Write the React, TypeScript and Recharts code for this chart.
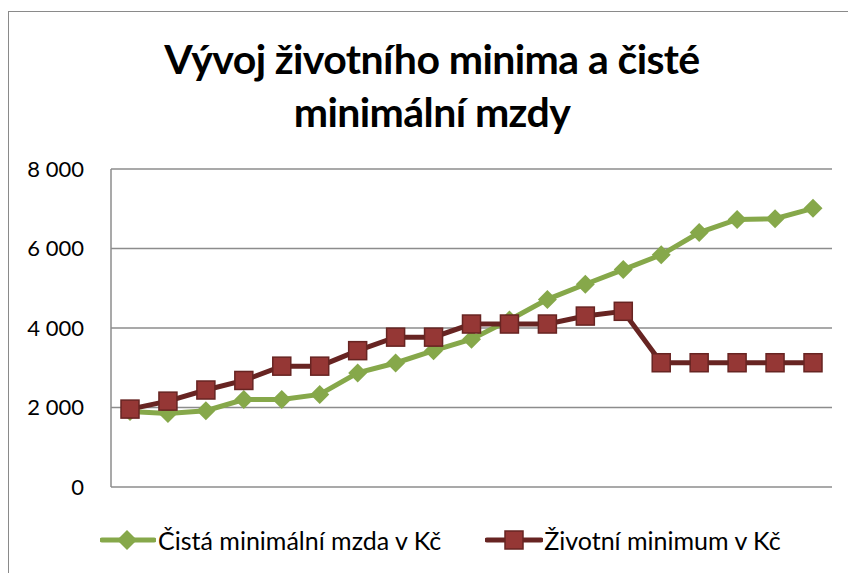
import { LineChart, Line, XAxis, YAxis, CartesianGrid } from "recharts"

const years = [
  "1991", "1992", "1993", "1994", "1995", "1996", "1997", "1998", "1999", "2000",
  "2001", "2002", "2003", "2004", "2005", "2006", "2007", "2008", "2009",
]
const cistaMzda = [
  1900, 1850, 1920, 2200, 2200, 2330, 2870, 3120, 3430, 3720,
  4200, 4720, 5100, 5470, 5840, 6400, 6730, 6750, 7010,
]
const zivotniMinimum = [
  1960, 2160, 2440, 2680, 3040, 3040, 3430, 3770, 3770, 4100,
  4100, 4100, 4300, 4420, 3126, 3126, 3126, 3126, 3126,
]
const yTicks = [0, 2000, 4000, 6000, 8000]

const data = years.map((year, i) => ({
  year,
  mzda: cistaMzda[i],
  minimum: zivotniMinimum[i],
}))

const GREEN = "#86a84a"
const RED_LINE = "#672422"
const RED_FILL = "#953735"
const FONT = "Lato, 'Noto Sans', sans-serif"

const fmt = (v: number) => (v === 0 ? "0" : `${Math.floor(v / 1000)} ${String(v % 1000).padStart(3, "0")}`)

function Diamond({ cx, cy }: any) {
  if (cx == null || cy == null) return null
  const r = 9.5
  return <polygon points={`${cx},${cy - r} ${cx + r},${cy} ${cx},${cy + r} ${cx - r},${cy}`} fill={GREEN} />
}

function Square({ cx, cy }: any) {
  if (cx == null || cy == null) return null
  const s = 9
  return <rect x={cx - s} y={cy - s} width={s * 2} height={s * 2} fill={RED_FILL} stroke={RED_LINE} strokeWidth={1.5} />
}

export default function App() {
  return (
    <div style={{ position: "relative", width: 848, height: 573, overflow: "hidden", background: "#fff", fontFamily: FONT }}>
      <style>{"body{margin:0}"}</style>
      <div
        style={{
          position: "absolute",
          left: 8,
          top: 11,
          width: 900,
          height: 620,
          border: "1.5px solid #8a8a8a",
        }}
      />
      <div
        style={{
          position: "absolute",
          left: 82,
          width: 700,
          top: 32,
          textAlign: "center",
          fontWeight: 700,
          fontSize: 41,
          lineHeight: "53px",
          color: "#000",
          letterSpacing: -0.6,
        }}
      >
        Vývoj životního minima a čisté
        <br />
        minimální mzdy
      </div>
      <div style={{ position: "absolute", left: 0, top: 0 }}>
        <LineChart width={848} height={573} data={data} margin={{ top: 169, right: 16, bottom: 86, left: 0 }}>
          <CartesianGrid vertical={false} stroke="#8c8c8c" strokeWidth={1.5} />
          <XAxis
            dataKey="year"
            tick={false}
            height={0}
            padding={{ left: 19, right: 19 }}
            axisLine={{ stroke: "#8c8c8c", strokeWidth: 1.5 }}
            tickLine={false}
          />
          <YAxis
            width={111}
            domain={[0, 8000]}
            ticks={yTicks}
            interval={0}
            tickFormatter={fmt}
            tickLine={false}
            tickSize={0}
            tickMargin={27}
            axisLine={{ stroke: "#8c8c8c", strokeWidth: 1.5 }}
            tick={{ fill: "#000", fontSize: 22, fontFamily: FONT }}
          />
          <Line
            dataKey="mzda"
            name="Čistá minimální mzda v Kč"
            stroke={GREEN}
            strokeWidth={5}
            dot={<Diamond />}
            activeDot={false}
            isAnimationActive={false}
          />
          <Line
            dataKey="minimum"
            name="Životní minimum v Kč"
            stroke={RED_LINE}
            strokeWidth={5}
            dot={<Square />}
            activeDot={false}
            isAnimationActive={false}
          />
        </LineChart>
      </div>
      <div
        style={{
          position: "absolute",
          top: 525,
          left: 100,
          display: "flex",
          alignItems: "center",
          fontSize: 25,
          color: "#000",
          lineHeight: "30px",
        }}
      >
        <svg width={56} height={30}>
          <line x1={2} y1={15} x2={54} y2={15} stroke={GREEN} strokeWidth={5} strokeLinecap="round" />
          <polygon points="27,5 37,15 27,25 17,15" fill={GREEN} />
        </svg>
        <span style={{ marginLeft: 2 }}>Čistá minimální mzda v Kč</span>
        <svg width={58} height={30} style={{ marginLeft: 44 }}>
          <line x1={2} y1={15} x2={56} y2={15} stroke={RED_LINE} strokeWidth={5} strokeLinecap="round" />
          <rect x={20} y={6} width={18} height={18} fill={RED_FILL} stroke={RED_LINE} strokeWidth={1.5} />
        </svg>
        <span style={{ marginLeft: 1 }}>Životní minimum v Kč</span>
      </div>
    </div>
  )
}
